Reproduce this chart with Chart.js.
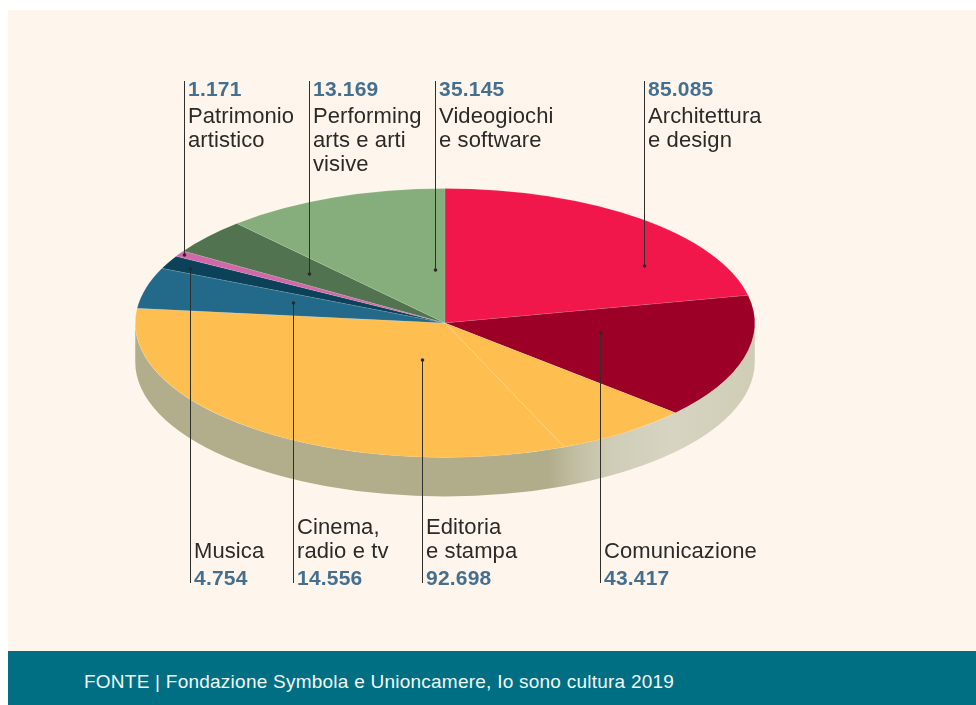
<!DOCTYPE html>
<html lang="it">
<head>
<meta charset="utf-8">
<title>Io sono cultura 2019</title>
<script src="https://cdn.jsdelivr.net/npm/chart.js@4"></script>
<style>
html,body{margin:0;padding:0;background:#fff;overflow:hidden}
#stage{position:relative;width:976px;height:705px;overflow:hidden;font-family:"Liberation Sans",Arial,sans-serif}
#bg{position:absolute;left:8px;top:10px;width:968px;height:641px;background:#FEF6EC}
#foot{position:absolute;left:8px;top:651px;width:968px;height:54px;background:#006F83}
#foot span{position:absolute;left:76px;top:20px;font-size:19px;line-height:22px;letter-spacing:.24px;color:#F2F8F8;white-space:nowrap}
canvas{position:absolute;left:0;top:0}
.t{position:absolute;white-space:nowrap;font-size:22px;line-height:24px;color:#2B2A29;letter-spacing:.1px}
.v{font-size:21px;font-weight:bold;color:#456F8F;letter-spacing:.2px}
</style>
</head>
<body>
<div id="stage">
  <div id="bg"></div>
  <div id="foot"><span>FONTE | Fondazione Symbola e Unioncamere, Io sono cultura 2019</span></div>
  <canvas id="c" width="976" height="705"></canvas>
</div>
<script>
// Slice sizes (share of the full circle, in degrees).
const sliceNames  = ["Architettura e design","Comunicazione","Editoria e stampa (a)","Editoria e stampa (b)","Cinema, radio e tv","Musica","Patrimonio artistico","Performing arts e arti visive","Videogiochi e software"];
const sliceShares = [78.1,53.8,25.4,118.9,17.7,5.8,2.6,15.4,42.2];
const sliceColors = ["#F1174A","#9C0027","#FEBE50","#FEBE50","#236A8A","#0B4259","#D068A9","#52734F","#85AE7C"];

// Printed labels
const topNames    = [["Patrimonio","artistico"],["Performing","arts e arti","visive"],["Videogiochi","e software"],["Architettura","e design"]];
const topValues   = ["1.171","13.169","35.145","85.085"];
const bottomNames = [["Musica"],["Cinema,","radio e tv"],["Editoria","e stampa"],["Comunicazione"]];
const bottomValues= ["4.754","14.556","92.698","43.417"];

// Layout
const SQUASH = 0.434, DEPTH = 39;
const topTextX = [188,313,439,648], bottomTextX = [194,297,426,604];
const topLeaders = [[184.5,255],[309.5,274],[435.5,270],[644.5,266]];       // x, anchor y
const bottomLeaders = [[190.5,269],[293.5,303],[422.5,360],[600.5,333]];
const LEADER_TOP = 81, LEADER_BOTTOM = 583;

const stage = document.getElementById("stage");
function addText(txt, x, baseline, isValue){
  const d = document.createElement("div");
  d.className = "t" + (isValue ? " v" : "");
  d.textContent = txt;
  d.style.left = x + "px";
  d.style.top = (baseline - 19) + "px";
  stage.appendChild(d);
}
topNames.forEach((lines,i)=>{
  addText(topValues[i], topTextX[i], 96, true);
  lines.forEach((l,j)=>addText(l, topTextX[i], 123 + j*24, false));
});
bottomNames.forEach((lines,i)=>{
  addText(bottomValues[i], bottomTextX[i], 585, true);
  lines.forEach((l,j)=>addText(l, bottomTextX[i], 558 - (lines.length-1-j)*24, false));
});

const tiltPlugin = {
  id: "tilt",
  beforeDatasetsDraw(chart){
    const arc = chart.getDatasetMeta(0).data[0];
    const cx = arc.x, cy = arc.y, R = arc.outerRadius, ctx = chart.ctx;
    ctx.save();
    const g = ctx.createLinearGradient(cx-R,0,cx+R,0);
    const W = 2*R;
    g.addColorStop(0,"#B2AD8B");
    g.addColorStop((548-135)/W,"#B1AC8A");
    g.addColorStop((572-135)/W,"#BFBCA0");
    g.addColorStop((610-135)/W,"#CFCDB7");
    g.addColorStop((670-135)/W,"#D7D5C2");
    g.addColorStop(1,"#CFCDB5");
    ctx.fillStyle = g;
    ctx.beginPath();
    ctx.ellipse(cx,cy,R,R*SQUASH,0,0,Math.PI);
    ctx.ellipse(cx,cy+DEPTH,R,R*SQUASH,0,Math.PI,0,true);
    ctx.closePath();
    ctx.fill();
    ctx.restore();
    ctx.save();
    ctx.translate(cx,cy);
    ctx.scale(1,SQUASH);
    ctx.translate(-cx,-cy);
  },
  afterDatasetsDraw(chart){
    const ctx = chart.ctx;
    ctx.restore();
    ctx.save();
    ctx.strokeStyle = "#2F2F2D";
    ctx.fillStyle = "#2B2A29";
    ctx.lineWidth = 1;
    const draw = (x,y1,y2,ay)=>{
      ctx.beginPath();ctx.moveTo(x,y1);ctx.lineTo(x,y2);ctx.stroke();
      ctx.beginPath();ctx.arc(x,ay,1.8,0,Math.PI*2);ctx.fill();
    };
    topLeaders.forEach(([x,y])=>draw(x,LEADER_TOP,y,y));
    bottomLeaders.forEach(([x,y])=>draw(x,y,LEADER_BOTTOM,y));
    ctx.restore();
  }
};

new Chart(document.getElementById("c"),{
  type:"pie",
  data:{labels:sliceNames,datasets:[{
    data:sliceShares,
    backgroundColor:sliceColors,
    borderColor:"rgba(255,255,255,0.3)",
    borderWidth:0.5,
    hoverOffset:0,
    clip:false
  }]},
  options:{
    responsive:false,
    animation:false,
    rotation:0,
    events:[],
    layout:{padding:{left:135,right:221,top:13,bottom:72}},
    plugins:{legend:{display:false},tooltip:{enabled:false},title:{display:false}}
  },
  plugins:[tiltPlugin]
});
</script>
</body>
</html>
